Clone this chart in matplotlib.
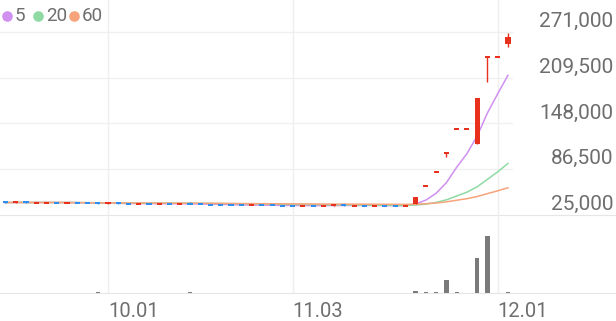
import matplotlib
matplotlib.use("Agg")
import matplotlib.pyplot as plt
import matplotlib.transforms as mtransforms
import numpy as np
import pandas as pd

# KRX trading days shown, 2025 (Chuseok break removed)
holidays = ["2025-10-03", "2025-10-06", "2025-10-07", "2025-10-08", "2025-10-09"]
days = pd.bdate_range("2025-09-17", "2025-12-02")
days = days[~days.isin(pd.to_datetime(holidays))]

opens = [42300, 41600, 42200, 41400, 41500, 41900, 41100, 41600, 41200, 40900,
         40300, 40800, 40400, 40000, 40500, 39800, 40300, 39700, 40200, 39700,
         39300, 39000, 38700, 38500, 38000, 38600, 38300, 38000, 37800, 37300,
         37900, 37400, 37700, 38200, 37500, 38000, 37400, 37900, 37500, 37100,
         39600, 63500, 82700, 107300, 140200, 140200, 120400, 237000, 236900, 254500]
closes = [41700, 42100, 41600, 41900, 42000, 41300, 41700, 41100, 40700, 40400,
          40900, 40300, 39900, 40600, 39900, 40400, 39800, 40300, 39700, 39200,
          38800, 38500, 38200, 38000, 38600, 38100, 37800, 37500, 37300, 37900,
          37400, 37900, 38200, 37600, 38000, 37400, 37900, 37300, 37000, 37600,
          49300, 64100, 83300, 108300, 140800, 140800, 182900, 237900, 237600, 264700]
highs = [42300, 42100, 42200, 41900, 42000, 41900, 41700, 41600, 41200, 40900,
         40900, 40800, 40400, 40600, 40500, 40400, 40300, 40300, 42500, 39700,
         39300, 39000, 38700, 38500, 38600, 38600, 38300, 38000, 37800, 37900,
         37900, 37900, 38200, 38200, 38000, 38000, 37900, 37900, 37500, 37600,
         49300, 64100, 83300, 108300, 140800, 140800, 182900, 237900, 237600, 269000]
lows = [41700, 41600, 41600, 41400, 41500, 41300, 41100, 41100, 40700, 40400,
        40300, 40300, 39900, 40000, 39900, 39800, 39800, 39700, 39700, 39200,
        38800, 38500, 38200, 38000, 38000, 38100, 37800, 37500, 37300, 37300,
        37400, 37400, 37700, 37600, 37500, 37400, 37400, 37300, 37000, 37100,
        39300, 63500, 82700, 103500, 140200, 140200, 120000, 204000, 236900, 251300]
volumes = [30000, 25000, 35000, 20000, 30000, 25000, 40000, 30000, 20000, 110000,
           30000, 25000, 20000, 30000, 25000, 20000, 30000, 25000, 120000, 30000,
           20000, 25000, 30000, 20000, 25000, 30000, 20000, 25000, 30000, 20000,
           25000, 30000, 20000, 25000, 30000, 20000, 25000, 20000, 30000, 25000,
           270000, 170000, 130000, 1330000, 170000, 40000, 3500000, 5760000, 30000, 170000]

ma_periods = [5, 20, 60]
ma_colors = ["#d090f0", "#8edaa2", "#f7a37b"]
price_ticks = [25000, 86500, 148000, 209500, 271000]

RED = "#e8311c"
BLUE = "#2f8fef"
TXT = "#6e6e6e"
plt.rcParams["font.family"] = ["Roboto", "DejaVu Sans"]

W, H = 616, 321
price_bottom = 215.0   # px from top
vol_bottom = 293.3
tick_gap = 45.75       # px between price gridlines
per_px = (price_ticks[1] - price_ticks[0]) / tick_gap

fig = plt.figure(figsize=(W / 100, H / 100), dpi=100)
ax = fig.add_axes([0, 1 - price_bottom / H, 1, price_bottom / H])
axv = fig.add_axes([0, 1 - vol_bottom / H, 1, (vol_bottom - price_bottom) / H], sharex=ax)

x = np.arange(len(days))
o, h, l, c = (np.array(a, dtype=float) for a in (opens, highs, lows, closes))
cols = np.where(c >= o, RED, BLUE)

# moving averages
s = pd.Series(c)
for n, col in zip(ma_periods, ma_colors):
    ax.plot(x, s.rolling(n, min_periods=1).mean(), color=col, lw=1.1, zorder=2)

# candles
ax.vlines(x, l, h, colors=cols, lw=1.0, zorder=3)
body = np.maximum(np.abs(c - o), 2.0 * per_px)
mid = (o + c) / 2
ax.bar(x, body, bottom=mid - body / 2, width=0.5, color=cols, zorder=4)

# volume
axv.bar(x, volumes, width=0.42, color="#7a7a7a", zorder=3)

ax.set_xlim(-5.45 / 10.255, (W - 5.45) / 10.255)
ax.set_ylim(price_ticks[0], price_ticks[0] + price_bottom * per_px)
axv.set_ylim(0, 7.83e6)

for a in (ax, axv):
    a.set_xticks([])
    a.set_yticks([])
    for sp in ("top", "left", "right"):
        a.spines[sp].set_visible(False)
    a.spines["bottom"].set_color("#e6e6e6")
    a.patch.set_alpha(0)

grid_end = 512 / W
for v in price_ticks[1:]:
    ax.axhline(v, xmin=0, xmax=grid_end, color="#f0f0f0", lw=1, zorder=0)

# price labels above their gridlines
ytrans = mtransforms.offset_copy(
    mtransforms.blended_transform_factory(fig.transFigure, ax.transData),
    fig=fig, x=0, y=5, units="dots")
for v in price_ticks:
    ax.text(613 / W, v, f"{v:,}", transform=ytrans, ha="right", va="baseline",
            fontsize=15, color=TXT)

# month starts
firsts = [i for i in range(1, len(days)) if days[i].month != days[i - 1].month]
xtrans = mtransforms.blended_transform_factory(axv.transData, fig.transFigure)
for i in firsts:
    ax.axvline(i, color="#efefef", lw=1, zorder=0)
    axv.axvline(i, color="#efefef", lw=1, zorder=0)
    axv.text(i, 1 - 317.3 / H, days[i].strftime("%m.%d"), transform=xtrans,
             ha="left", va="baseline", fontsize=14.5, color=TXT)

# legend
dot_x = [6.5, 37.7, 74.3]
txt_x = [15, 46, 82]
for n, col, dx, tx in zip(ma_periods, ma_colors, dot_x, txt_x):
    fig.add_artist(plt.Line2D([dx / W], [1 - 15.6 / H], marker="o", ms=6.6,
                              color=col, lw=0, transform=fig.transFigure))
    fig.text(tx / W, 1 - 20.8 / H, str(n), fontsize=13.5, color=TXT,
             ha="left", va="baseline")

fig.savefig("out.png", dpi=100)
